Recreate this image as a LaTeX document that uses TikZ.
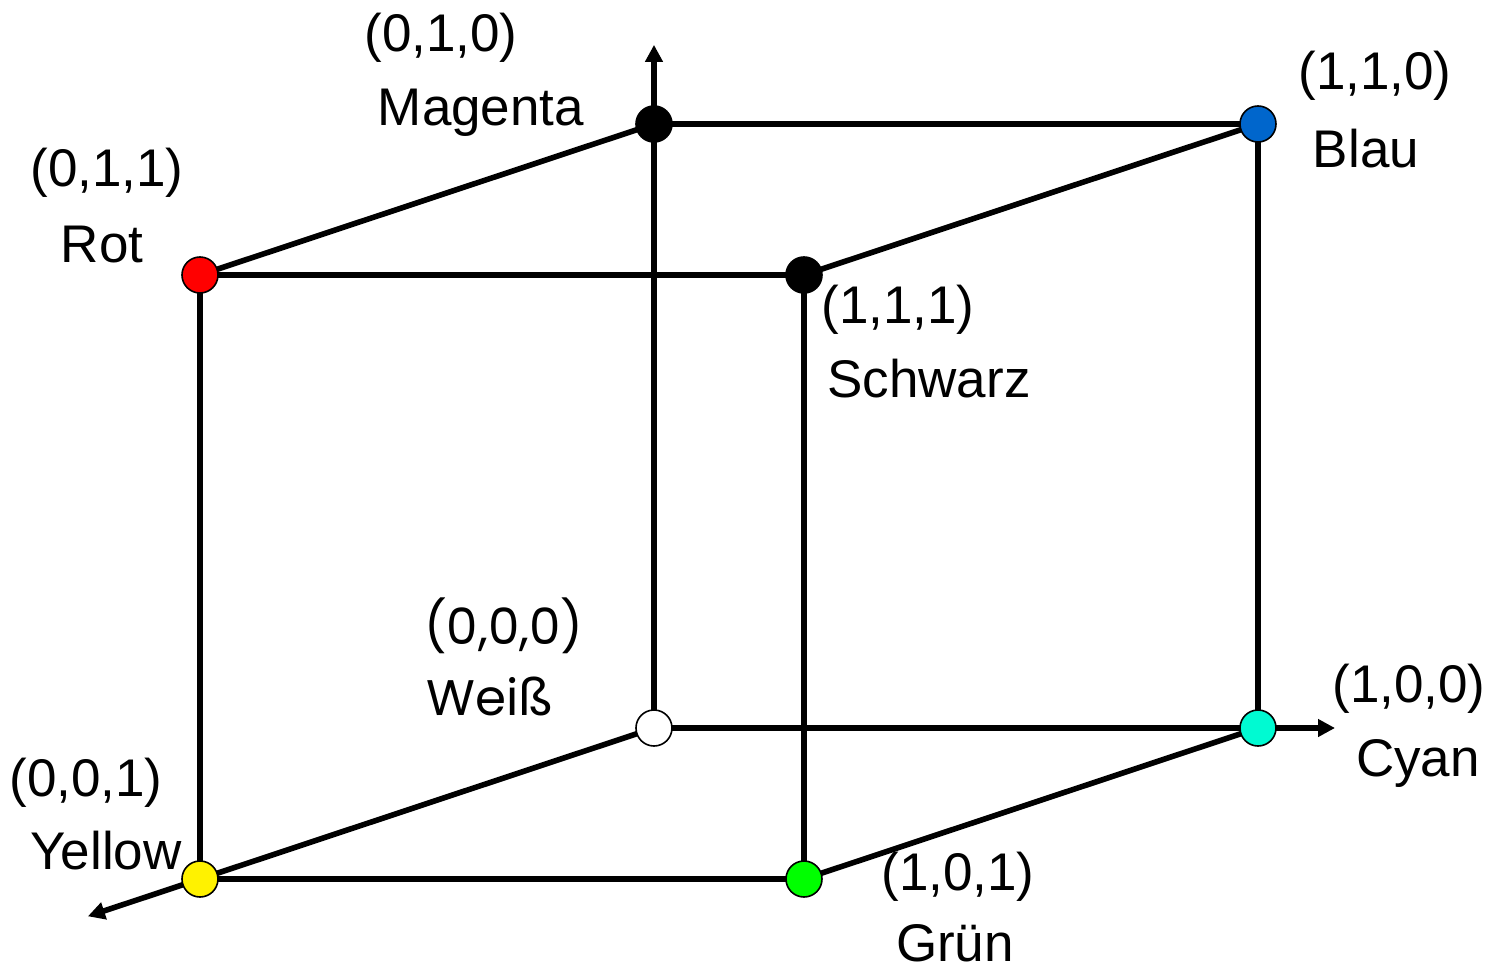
\documentclass[tikz,border=0pt]{standalone}
\usepackage{fontspec}
\setmainfont{Liberation Sans}
\newfontfamily\roundfont{Poppins}
\usepackage{xcolor}
\usepackage{tikz}
\usetikzlibrary{arrows.meta}

\definecolor{cyanvtx}{RGB}{0,250,210}
\definecolor{blauvtx}{RGB}{0,102,204}

\begin{document}
\begin{tikzpicture}[x={(302pt,0pt)}, y={(0pt,302pt)}, z={(-227pt,-75.5pt)},
    vertex/.style={draw, circle, line width=0.8pt, minimum size=18pt, inner sep=0pt},
    edge/.style={line width=2.8pt},
    axis/.style={line width=2.8pt, -{Triangle[length=8.5pt, width=8.5pt]}},
    lbl/.style={anchor=base, inner sep=0pt, font=\fontsize{26.5}{30}\selectfont}]
    \useasboundingbox (-327pt,-121.5pt) rectangle (420pt,364pt);

    % Corners of the cube
    \coordinate (w) at (0,0,0);
    \coordinate (c) at (1,0,0);
    \coordinate (m) at (0,1,0);
    \coordinate (y) at (0,0,1);
    \coordinate (b) at (1,1,0);
    \coordinate (g) at (1,0,1);
    \coordinate (r) at (0,1,1);
    \coordinate (s) at (1,1,1);

    % Axis ends
    \coordinate (xend) at (1.1275,0,0);
    \coordinate (yend) at (0,1.131,0);
    \coordinate (zend) at (0,0,1.247);

    % Axes
    \draw[axis] (w) -- (xend);
    \draw[axis] (w) -- (yend);
    \draw[axis] (w) -- (zend);

    % Edges
    \draw[edge] (m) -- (b) -- (c);
    \draw[edge] (m) -- (r) -- (y) -- (g) -- (c);
    \draw[edge] (r) -- (s) -- (b);
    \draw[edge] (s) -- (g);

    % Vertices
    \node[vertex, fill=white] (weiss) at (w) {};
    \node[vertex, fill=cyanvtx] (cyan) at (c) {};
    \node[vertex, fill=black] (magenta) at (m) {};
    \node[vertex, fill=yellow] (yellow) at (y) {};
    \node[vertex, fill=blauvtx] (blau) at (b) {};
    \node[vertex, fill=green] (gruen) at (g) {};
    \node[vertex, fill=red] (rot) at (r) {};
    \node[vertex, fill=black] (schwarz) at (s) {};

    % Labels
    \node[lbl] (magentac) at ([shift={(-106.5pt,36pt)}]magenta.center) {(0,1,0)};
    \node[lbl] (magentan) at ([shift={(-86.5pt,-0.5pt)}]magenta.center) {Magenta};
    \node[lbl] (rotc) at ([shift={(-46.5pt,44.5pt)}]rot.center) {(0,1,1)};
    \node[lbl] (rotn) at ([shift={(-49pt,6.5pt)}]rot.center) {Rot};
    \node[lbl] (blauc) at ([shift={(58.5pt,17.5pt)}]blau.center) {(1,1,0)};
    \node[lbl] (blaun) at ([shift={(54pt,-22pt)}]blau.center) {Blau};
    \node[lbl] (schwarzc) at ([shift={(47pt,-24pt)}]schwarz.center) {(1,1,1)};
    \node[lbl] (schwarzn) at ([shift={(62.5pt,-61pt)}]schwarz.center) {Schwarz};
    \node[lbl, font=\roundfont\fontsize{25}{30}\selectfont] (weissc) at ([shift={(-75pt,42pt)}]weiss.center) {(0,0,0)};
    \node[lbl, font=\roundfont\fontsize{25}{30}\selectfont] (weissn) at ([shift={(-82pt,6.5pt)}]weiss.center) {Weiß};
    \node[lbl] (cyanc) at ([shift={(75.5pt,13pt)}]cyan.center) {(1,0,0)};
    \node[lbl] (cyann) at ([shift={(80pt,-24pt)}]cyan.center) {Cyan};
    \node[lbl] (yellowc) at ([shift={(-57pt,41.5pt)}]yellow.center) {(0,0,1)};
    \node[lbl] (yellown) at ([shift={(-47pt,5pt)}]yellow.center) {Yellow};
    \node[lbl] (gruenc) at ([shift={(77pt,-5.5pt)}]gruen.center) {(1,0,1)};
    \node[lbl] (gruenn) at ([shift={(75.5pt,-41pt)}]gruen.center) {Grün};
\end{tikzpicture}
\end{document}
